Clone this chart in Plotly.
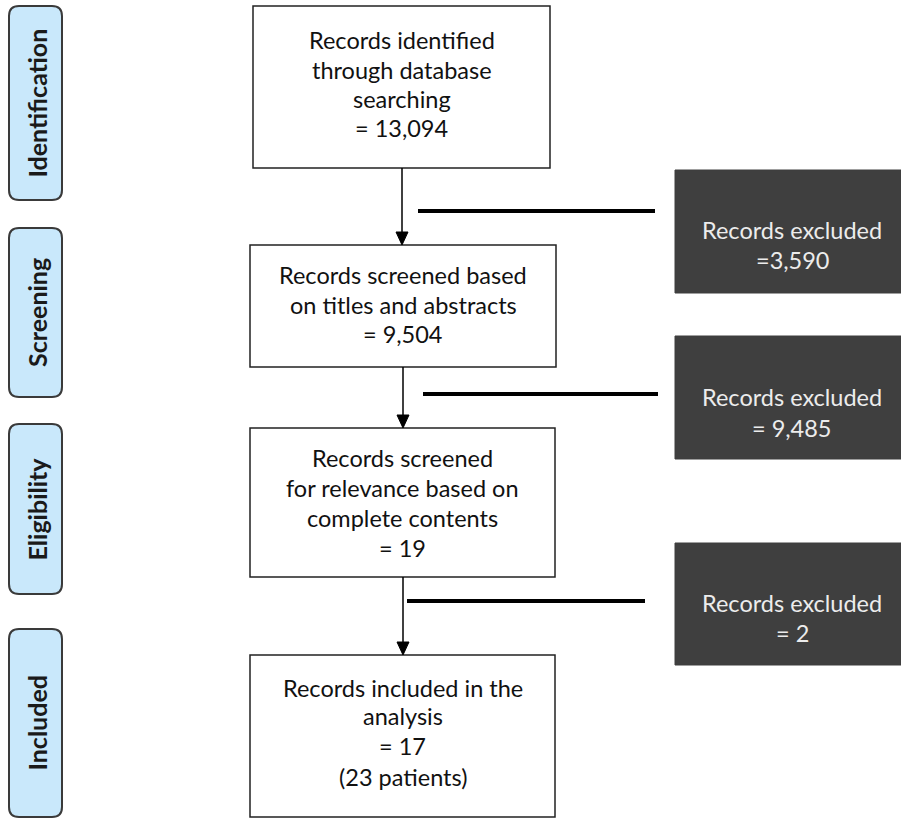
import plotly.graph_objects as go

# ---- data ----
stages = ["Identification", "Screening", "Eligibility", "Included"]
flow_lines = [
    ["Records identified", "through database", "searching"],
    ["Records screened based", "on titles and abstracts"],
    ["Records screened", "for relevance based on", "complete contents"],
    ["Records included in the", "analysis"],
]
flow_counts = [13094, 9504, 19, 17]
flow_extra = ["", "", "", "(23 patients)"]
excluded_label = "Records excluded"
excluded_counts = [3590, 9485, 2]
excluded_prefix = ["=", "= ", "= "]

# ---- layout geometry (pixels) ----
W, H = 901, 818
stage_boxes = [(9, 6, 62, 200), (9, 228, 62, 397), (9, 424, 62, 594), (9, 629, 62, 817)]
main_boxes = [(253, 6, 550, 168), (250, 245, 556, 367), (250, 428, 555, 577), (250, 655, 555, 817)]
main_text_y = [[40, 70, 99, 128], [275, 305, 334], [458, 488, 518, 548], [688, 716, 746, 777]]
arrow_x = [402, 403, 403]
excl_boxes = [(675, 170, 905, 293), (675, 336, 905, 459), (675, 543, 905, 665)]
excl_text_y = [(230, 260), (397, 428), (603, 633)]
bars = [(418, 655, 211), (423, 658, 394), (407, 645, 601)]

FONT = "Lato"
TXT = 23.5
shapes = []
annotations = []


def rounded(x0, y0, x1, y1, r):
    return (f"M{x0+r},{y0} L{x1-r},{y0} Q{x1},{y0} {x1},{y0+r} L{x1},{y1-r} "
            f"Q{x1},{y1} {x1-r},{y1} L{x0+r},{y1} Q{x0},{y1} {x0},{y1-r} "
            f"L{x0},{y0+r} Q{x0},{y0} {x0+r},{y0} Z")


for (x0, y0, x1, y1), name in zip(stage_boxes, stages):
    shapes.append(dict(type="path", path=rounded(x0, y0, x1, y1, 10), xref="x", yref="y",
                       fillcolor="#c9e8fb", line=dict(color="#3a3a3a", width=2)))
    annotations.append(dict(x=(x0 + x1) / 2 + 1, y=(y0 + y1) / 2, text=f"<b>{name}</b>", textangle=-90,
                            showarrow=False, xref="x", yref="y",
                            font=dict(family=FONT, size=25, color="#1a1a1a")))

for i, (x0, y0, x1, y1) in enumerate(main_boxes):
    shapes.append(dict(type="rect", x0=x0, y0=y0, x1=x1, y1=y1, xref="x", yref="y",
                       fillcolor="white", line=dict(color="#222222", width=1.5)))
    lines = list(flow_lines[i]) + [f"= {flow_counts[i]:,}"]
    if flow_extra[i]:
        lines.append(flow_extra[i])
    cx = (x0 + x1) / 2
    for txt, ty in zip(lines, main_text_y[i]):
        annotations.append(dict(x=cx, y=ty, text=txt, showarrow=False, xref="x", yref="y",
                                font=dict(family=FONT, size=TXT, color="#111111")))

for i, ax in enumerate(arrow_x):
    ys = main_boxes[i][3]
    ye = main_boxes[i + 1][1]
    shapes.append(dict(type="line", x0=ax, y0=ys, x1=ax, y1=ye - 10, xref="x", yref="y",
                       line=dict(color="black", width=1.5)))
    shapes.append(dict(type="path", path=f"M{ax-6},{ye-13} L{ax+6},{ye-13} L{ax},{ye} Z",
                       xref="x", yref="y", fillcolor="black", line=dict(color="black", width=1)))

for (x0, x1, y) in bars:
    shapes.append(dict(type="line", x0=x0, y0=y, x1=x1, y1=y, xref="x", yref="y",
                       line=dict(color="black", width=4)))

for i, (x0, y0, x1, y1) in enumerate(excl_boxes):
    shapes.append(dict(type="rect", x0=x0, y0=y0, x1=x1, y1=y1, xref="x", yref="y",
                       fillcolor="#3f3f3f", line=dict(color="#3f3f3f", width=1)))
    ty1, ty2 = excl_text_y[i]
    annotations.append(dict(x=792, y=ty1, text=excluded_label, showarrow=False, xref="x", yref="y",
                            font=dict(family=FONT, size=TXT, color="#ececec")))
    annotations.append(dict(x=792, y=ty2, text=f"{excluded_prefix[i]}{excluded_counts[i]:,}",
                            showarrow=False, xref="x", yref="y",
                            font=dict(family=FONT, size=TXT, color="#ececec")))

fig = go.Figure()
fig.update_layout(
    width=W, height=H, margin=dict(l=0, r=0, t=0, b=0),
    paper_bgcolor="white", plot_bgcolor="white",
    xaxis=dict(range=[0, W], visible=False, fixedrange=True),
    yaxis=dict(range=[H, 0], visible=False, fixedrange=True),
    shapes=shapes, annotations=annotations, showlegend=False,
)
fig.write_html(
    "out.html",
    config={"displayModeBar": False},
    post_script="document.body.style.margin='0';document.body.style.overflow='hidden';",
)
